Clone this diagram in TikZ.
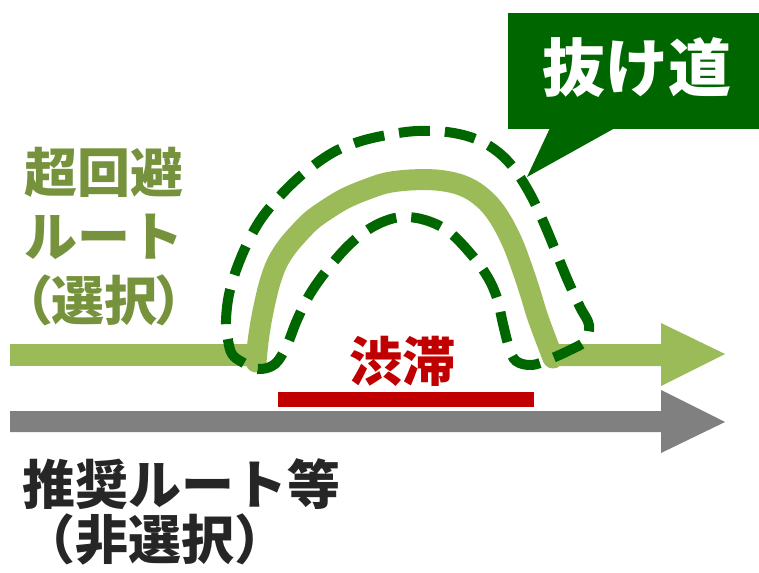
\documentclass[tikz,border=0pt]{standalone}
\usepackage{fontspec}
\newfontfamily\jp{Noto Sans CJK JP}
\newfontfamily\jpp{Noto Sans CJK JP}[RawFeature=+palt]
\definecolor{lgreen}{HTML}{9BBB59}
\definecolor{dgreen}{HTML}{006600}
\definecolor{olive}{HTML}{76923C}
\definecolor{cred}{HTML}{C00000}
\definecolor{cgray}{HTML}{808080}
\definecolor{ctext}{HTML}{262626}
\tikzset{
  lbl/.style={inner sep=0pt, font=\jp\bfseries\fontsize{53}{64}\selectfont},
  archline/.style={draw=lgreen, line width=21pt, line join=round, line cap=round},
  dashloop/.style={draw=dgreen, line width=10pt, dash pattern=on 31pt off 15pt},
}
\begin{document}
\begin{tikzpicture}[x=1pt,y=-1pt]
\useasboundingbox (0,0) rectangle (759,572);
% gray arrow
\fill[cgray] (10,411) -- (661,411) -- (661,390) -- (725,422) -- (661,453) -- (661,432) -- (10,432) -- cycle;
% green arrow (split)
\fill[lgreen] (10,344) rectangle (248,366);
\fill[lgreen] (548,344) -- (661,344) -- (661,323) -- (725,354) -- (661,386) -- (661,366) -- (548,366) -- cycle;
% arch
\draw[archline] plot[smooth, tension=0.55] coordinates {(256,362) (258,342) (261,322) (265,302) (270,282) (277,263) (287,247) (299,233) (312,220) (329,208) (346,198) (365,190) (386,183) (410,180) (436,180) (458,184) (475,192) (490,205) (502,222) (513,244) (522,268) (530,292) (537,315) (545,337) (553,358)};
% dashed loop
\draw[dashloop] plot[smooth cycle, tension=0.6] coordinates {(228,340) (226,320) (230,290) (242,255) (259,222) (280,196) (304,173) (332,153) (358,142) (387,135) (417,131) (447,132) (473,138) (494,149) (512,166) (529,192) (543,221) (556,252) (568,281) (580,307) (589,325) (585,341) (570,350) (550,359) (532,365) (516,361) (509,347) (503,324) (497,298) (487,276) (470,253) (448,231) (425,220) (403,217) (385,221) (366,231) (347,247) (327,270) (310,294) (297,320) (287,345) (275,364) (258,369) (242,362) (232,354)};
% congestion bar
\fill[cred] (278,392) rectangle (534,407);
\node[lbl, text=cred, anchor=base] (jam) at (402,381) {渋滞};
% callout
\fill[dgreen] (508,13) rectangle (760,129);
\fill[dgreen] (550,128) -- (527,177) -- (615,128) -- cycle;
\node[inner sep=0pt, font=\jp\bfseries\fontsize{63}{70}\selectfont, text=white, anchor=base] (nuke) at (637,92) {抜け道};
% left label
\node[lbl, text=olive, anchor=base] (l1) at (104,192) {超回避};
\node[lbl, text=olive, anchor=base] (l2) at (104,256) {ルート};
\node[lbl, text=olive, anchor=base, font=\jpp\bfseries\fontsize{53}{64}\selectfont] (l3) at (104,320) {（選択）};
% bottom label
\node[lbl, text=ctext, anchor=base west] (b1) at (22,504) {推奨ルート等};
\node[lbl, text=ctext, anchor=base west] (b2) at (22,559) {（非選択）};
\end{tikzpicture}
\end{document}
